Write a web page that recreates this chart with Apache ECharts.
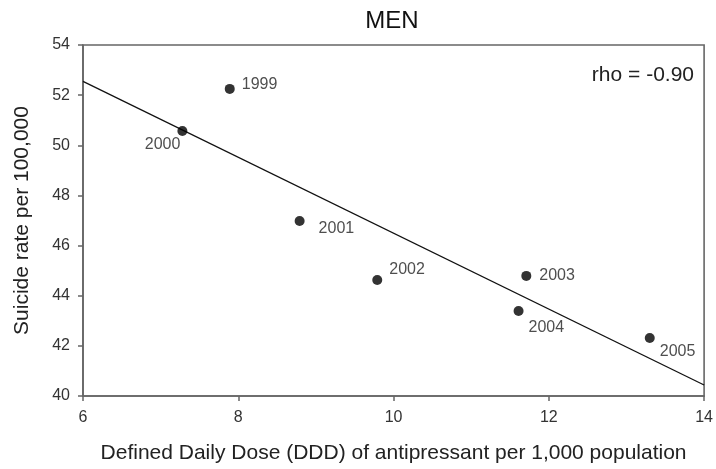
<!DOCTYPE html>
<html>
<head>
<meta charset="utf-8">
<script src="https://cdn.jsdelivr.net/npm/echarts@6/dist/echarts.min.js"></script>
<style>
html,body{margin:0;padding:0;background:#fff;}
#chart{width:716px;height:469px;}
</style>
</head>
<body>
<div id="chart"></div>
<script>
// ---- data ----
const years = ['1999', '2000', '2001', '2002', '2003', '2004', '2005'];
const dddValues = [7.89, 7.28, 8.79, 9.79, 11.71, 11.61, 13.30];
const suicideRates = [52.25, 50.57, 46.98, 44.63, 44.79, 43.39, 42.31];
const fitLineX = [6, 14];
const fitLineY = [52.55, 40.44];
const xTicks = [6, 8, 10, 12, 14];
const yTicks = [40, 42, 44, 46, 48, 50, 52, 54];
const titleText = 'MEN';
const rhoText = 'rho = -0.90';
const xAxisTitle = 'Defined Daily Dose (DDD) of antipressant per 1,000 population';
const yAxisTitle = 'Suicide rate per 100,000';

// ---- label placement (style, not data) ----
const labelPlacement = {
  '1999': {position: 'right', offset: [2, -4]},
  '2000': {position: 'left', offset: [8, 14]},
  '2001': {position: 'right', offset: [9, 8]},
  '2002': {position: 'right', offset: [2, -10]},
  '2003': {position: 'right', offset: [3, 0]},
  '2004': {position: 'right', offset: [0, 17]},
  '2005': {position: 'right', offset: [0, 14]}
};

const FONT = '"Liberation Sans", Arial, sans-serif';
const chart = echarts.init(document.getElementById('chart'));

const scatterData = years.map((y, i) => ({
  value: [dddValues[i], suicideRates[i]],
  name: y,
  label: Object.assign({show: true, formatter: y}, labelPlacement[y])
}));
const lineData = fitLineX.map((x, i) => [x, fitLineY[i]]);

const gridL = 83, gridT = 45, gridR = 10, gridB = 73;

chart.setOption({
  animation: false,
  backgroundColor: '#fff',
  textStyle: {fontFamily: FONT},
  grid: {left: gridL, top: gridT, right: gridR, bottom: gridB, show: true,
         borderColor: '#666', borderWidth: 1.6, backgroundColor: 'transparent'},
  xAxis: {
    type: 'value', min: xTicks[0], max: xTicks[xTicks.length - 1], interval: 2,
    name: xAxisTitle, nameLocation: 'middle', nameGap: 47,
    nameTextStyle: {fontSize: 21, color: '#222', fontFamily: FONT},
    axisLine: {show: true, lineStyle: {color: '#666', width: 1.6}},
    axisTick: {show: true, inside: false, length: 5, lineStyle: {color: '#666', width: 1.5}},
    axisLabel: {fontSize: 16, color: '#333', margin: 14, fontFamily: FONT},
    splitLine: {show: false}
  },
  yAxis: {
    type: 'value', min: yTicks[0], max: yTicks[yTicks.length - 1], interval: 2,
    name: yAxisTitle, nameLocation: 'middle', nameGap: 50, nameRotate: 90,
    nameTextStyle: {fontSize: 21, color: '#222', fontFamily: FONT},
    axisLine: {show: true, lineStyle: {color: '#666', width: 1.6}},
    axisTick: {show: true, inside: false, length: 5, lineStyle: {color: '#666', width: 1.5}},
    axisLabel: {fontSize: 16, color: '#333', margin: 13, fontFamily: FONT},
    splitLine: {show: false}
  },
  series: [
    {
      type: 'line', data: lineData, showSymbol: false, symbol: 'none',
      lineStyle: {color: '#111', width: 1.3}, silent: true, clip: true, z: 1
    },
    {
      type: 'scatter', data: scatterData, symbol: 'circle', symbolSize: 10,
      itemStyle: {color: '#000'},
      label: {fontSize: 16, color: '#222', fontFamily: FONT},
      z: 3
    }
  ],
  graphic: [
    {type: 'text', x: 392, y: 21,
     style: {text: titleText, fontSize: 24, fontFamily: FONT, fill: '#111',
             align: 'center', verticalAlign: 'middle'}},
    {type: 'text', x: 694, y: 75,
     style: {text: rhoText, fontSize: 21, fontFamily: FONT, fill: '#222',
             align: 'right', verticalAlign: 'middle'}}
  ]
});
</script>
</body>
</html>
